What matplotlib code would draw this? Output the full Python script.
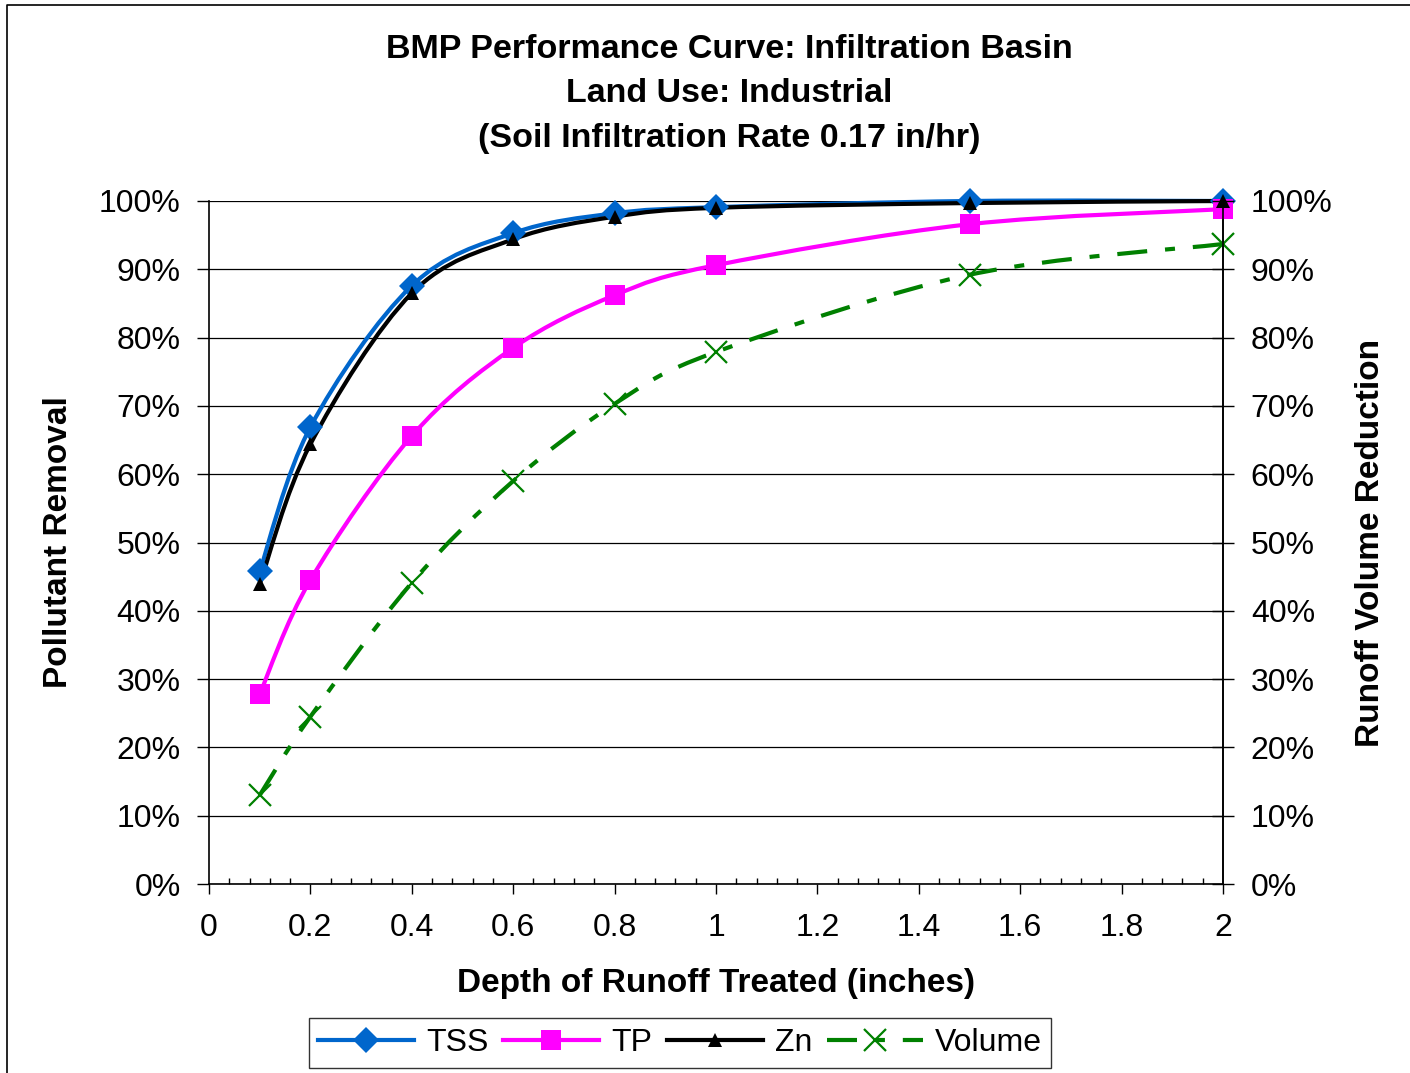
import numpy as np
import matplotlib
matplotlib.use("Agg")
import matplotlib.pyplot as plt
from matplotlib.path import Path
from matplotlib.patches import PathPatch
from matplotlib.lines import Line2D
from matplotlib.ticker import MultipleLocator, FuncFormatter

# depth of runoff treated (inches)
depth = [0.1, 0.2, 0.4, 0.6, 0.8, 1.0, 1.5, 2.0]
# removal / reduction in percent
tss = [45.8, 66.9, 87.6, 95.3, 98.2, 99.1, 100.0, 100.0]
tp = [27.8, 44.5, 65.6, 78.5, 86.2, 90.6, 96.6, 98.8]
zn = [43.9, 64.4, 86.5, 94.4, 97.7, 99.0, 99.7, 100.0]
volume = [13.0, 24.5, 44.1, 59.0, 70.3, 77.9, 89.2, 93.7]

series_names = ["TSS", "TP", "Zn", "Volume"]

plt.rcParams['font.family'] = ['Liberation Sans', 'DejaVu Sans']

W, H = 1410, 1073
fig = plt.figure(figsize=(W / 100, H / 100), dpi=100)
fig.patch.set_facecolor('white')

# chart border (only top and left edges fall inside the picture)
fig.add_artist(Line2D([7 / W, 7 / W, 1.0], [0.0, 1 - 5 / H, 1 - 5 / H],
                      transform=fig.transFigure, color='black', lw=1.2))

ax = fig.add_axes([209 / W, 1 - 884 / H, (1223 - 209) / W, (884 - 201) / H])
ax.set_xlim(0, 2)
ax.set_ylim(0, 100)


def smooth_path(xs, ys):
    # excel-style smoothed line: bezier segments through the data points
    pts = np.column_stack([xs, ys])
    n = len(pts)
    verts = [pts[0]]
    codes = [Path.MOVETO]
    for i in range(n - 1):
        p0 = pts[i - 1] if i > 0 else pts[i]
        p1 = pts[i]
        p2 = pts[i + 1]
        p3 = pts[i + 2] if i + 2 < n else pts[i + 1]
        c1 = p1 + (p2 - p0) / 6.0
        c2 = p2 - (p3 - p1) / 6.0
        verts += [c1, c2, p2]
        codes += [Path.CURVE4] * 3
    return Path(verts, codes)


styles = [
    dict(color='#0066CC', marker='D', ms=13, ls='-', mew=0),
    dict(color='#FF00FF', marker='s', ms=15, ls='-', mew=0),
    dict(color='black', marker='^', ms=10, ls='-', mew=0),
    dict(color='#008000', marker='x', ms=16, ls=(0, (7.2, 4.3, 2.4, 4.3)), mew=1.6),
]
data = [tss, tp, zn, volume]

handles = []
for ys, st, name in zip(data, styles, series_names):
    patch = PathPatch(smooth_path(depth, ys), fill=False, ec=st['color'], lw=3,
                      ls=st['ls'], capstyle='butt', zorder=3, clip_on=False)
    ax.add_patch(patch)
    ax.plot(depth, ys, ls='none', marker=st['marker'], ms=st['ms'], color=st['color'],
            mew=st['mew'], zorder=4, clip_on=False)
    handles.append(Line2D([], [], color=st['color'], lw=3, ls=st['ls'], marker=st['marker'],
                          ms=st['ms'], mew=st['mew'], label=name))

# axes styling
ax.spines['top'].set_visible(False)
for s in ['left', 'bottom', 'right']:
    ax.spines[s].set_color('black')
    ax.spines[s].set_linewidth(1.2)
ax.set_zorder(2)
ax.patch.set_alpha(0)

ax.yaxis.set_major_locator(MultipleLocator(10))
ax.yaxis.set_major_formatter(FuncFormatter(lambda v, p: f"{v:.0f}%"))
ax.grid(axis='y', color='black', lw=0.9, zorder=1)
ax.xaxis.set_major_locator(MultipleLocator(0.2))
ax.xaxis.set_minor_locator(MultipleLocator(0.04))
ax.xaxis.set_major_formatter(FuncFormatter(lambda v, p: f"{v:.1f}".rstrip('0').rstrip('.') if v else "0"))

ax.tick_params(axis='y', which='major', direction='out', length=8.5, width=1,
               labelsize=23, pad=12)
ax.tick_params(axis='x', which='major', direction='out', length=7, width=1,
               labelsize=23, pad=14)
ax.tick_params(axis='x', which='minor', direction='in', length=4, width=1)

ax2 = ax.twinx()
ax2.set_ylim(0, 100)
ax2.yaxis.set_major_locator(MultipleLocator(10))
ax2.yaxis.set_major_formatter(FuncFormatter(lambda v, p: f"{v:.0f}%"))
ax2.tick_params(axis='y', direction='inout', length=16, width=1, labelsize=23, pad=12)
for s in ['top', 'left', 'bottom']:
    ax2.spines[s].set_visible(False)
ax2.spines['right'].set_linewidth(1.2)

ax.set_ylabel("Pollutant Removal", fontsize=24, fontweight='bold', labelpad=18)
ax2.set_ylabel("Runoff Volume Reduction", fontsize=24, fontweight='bold', labelpad=16)
ax.set_xlabel("Depth of Runoff Treated (inches)", fontsize=24, fontweight='bold', labelpad=18)

title_lines = ["BMP Performance Curve: Infiltration Basin",
               "Land Use: Industrial",
               "(Soil Infiltration Rate 0.17 in/hr)"]
for i, t in enumerate(title_lines):
    fig.text(729 / W, 1 - (49 + 45 * i) / H, t, ha='center', va='center',
             fontsize=24.5, fontweight='bold')

leg = fig.legend(handles=handles, loc='center', bbox_to_anchor=(680 / W, 1 - 1043 / H),
                 ncol=4, fontsize=23, frameon=True, fancybox=False, edgecolor='black',
                 handlelength=3.0, handletextpad=0.37, columnspacing=0.47, borderpad=0.3,
                 numpoints=1)
leg.get_frame().set_linewidth(1.0)

fig.savefig("out.png", dpi=100)
